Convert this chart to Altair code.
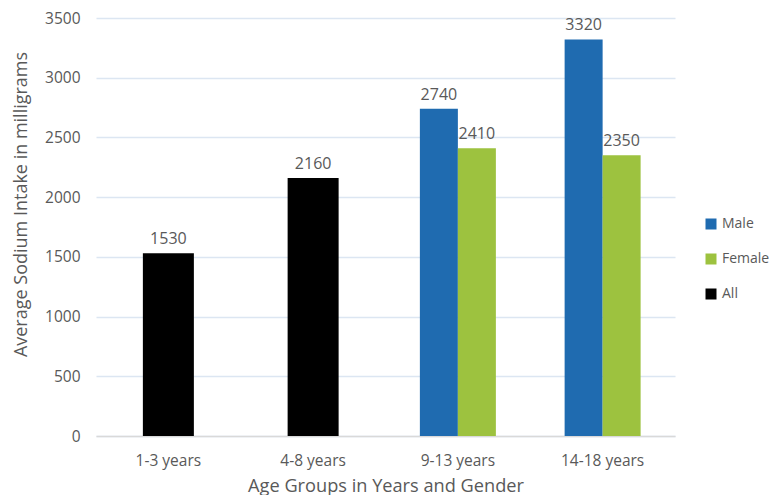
import altair as alt
import pandas as pd

ages = ["1-3 years", "4-8 years", "9-13 years", "14-18 years"]
all_values = [1530, 2160, None, None]
male_values = [None, None, 2740, 3320]
female_values = [None, None, 2410, 2350]
groups = ["Male", "Female", "All"]
colors = ["#1F6BB0", "#9DC23F", "#000000"]

rows_all = [{"age": a, "group": "All", "value": v} for a, v in zip(ages, all_values) if v is not None]
rows_mf = []
for a, m, f in zip(ages, male_values, female_values):
    if m is not None:
        rows_mf.append({"age": a, "group": "Male", "value": m})
    if f is not None:
        rows_mf.append({"age": a, "group": "Female", "value": f})

df_all = pd.DataFrame(rows_all)
df_mf = pd.DataFrame(rows_mf)

FONT = "Open Sans"
GRAY = "#595959"

xscale = alt.Scale(domain=ages, paddingInner=0.475, paddingOuter=0.2375)
yscale = alt.Scale(domain=[0, 3500], nice=False)
cscale = alt.Scale(domain=groups, range=colors)

x_enc = alt.X("age:N", sort=ages, scale=xscale,
              axis=alt.Axis(title="Age Groups in Years and Gender", labelAngle=0,
                            labelPadding=17, ticks=False, domainColor="#D9D9D9",
                            domainWidth=1.5, grid=False,
                            titleY=55, titleBaseline="alphabetic",
                            titleFontSize=18.2, titleFontWeight="normal"))
y_enc = alt.Y("value:Q", scale=yscale,
              axis=alt.Axis(title="Average Sodium Intake in milligrams",
                            values=[0, 500, 1000, 1500, 2000, 2500, 3000, 3500],
                            format="d",
                            domain=False, ticks=False, labelPadding=16,
                            gridColor="#DCE6F2", gridWidth=1.3,
                            titleX=-70, titleY=186, titleAngle=270,
                            titleAlign="center", titleBaseline="alphabetic",
                            titleFontSize=18, titleFontWeight="normal"))
c_enc = alt.Color("group:N", scale=cscale,
                  legend=alt.Legend(title=None, orient="none", legendX=608, legendY=199,
                                    symbolType="square", symbolSize=121,
                                    symbolStrokeWidth=0, labelFontSize=14,
                                    labelColor=GRAY, labelFont=FONT,
                                    rowPadding=21, labelOffset=4, padding=0))

bars_all = alt.Chart(df_all).mark_bar(size=51).encode(x=x_enc, y=y_enc, color=c_enc)
text_all = alt.Chart(df_all).mark_text(dy=-14, fontSize=16, font=FONT, color=GRAY).encode(
    x=alt.X("age:N", sort=ages, scale=xscale), y=alt.Y("value:Q", scale=yscale),
    text=alt.Text("value:Q", format="d"))

bars_mf = alt.Chart(df_mf).mark_bar().encode(
    x=alt.X("age:N", sort=ages, scale=xscale),
    xOffset=alt.XOffset("group:N", scale=alt.Scale(domain=["Male", "Female"])),
    y=alt.Y("value:Q", scale=yscale), color=c_enc)
text_mf = alt.Chart(df_mf).mark_text(dy=-14, fontSize=16, font=FONT, color=GRAY).encode(
    x=alt.X("age:N", sort=ages, scale=xscale),
    xOffset=alt.XOffset("group:N", scale=alt.Scale(domain=["Male", "Female"])),
    y=alt.Y("value:Q", scale=yscale),
    text=alt.Text("value:Q", format="d"))

chart = alt.layer(bars_all, bars_mf, text_all, text_mf).properties(
    width=579, height=418,
    autosize=alt.AutoSizeParams(type="none"),
    padding={"left": 88, "top": 10, "right": 97, "bottom": 59},
).configure_view(stroke=None).configure_axis(
    labelFont=FONT, titleFont=FONT, labelColor=GRAY, titleColor=GRAY, labelFontSize=15.5
)

chart.save("out.html", embed_options={"renderer": "svg", "actions": False})
